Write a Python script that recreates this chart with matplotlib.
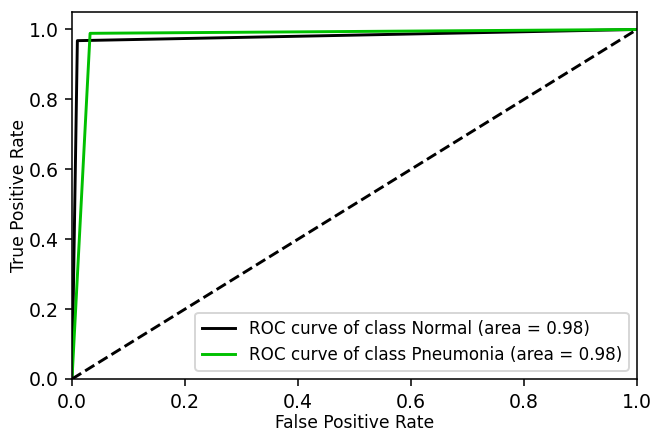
import numpy as np
import matplotlib
matplotlib.use("Agg")
import matplotlib.pyplot as plt

# ROC points
fpr_normal = [0.0, 0.0095, 1.0]
tpr_normal = [0.0, 0.968, 1.0]
fpr_pneu = [0.0, 0.032, 1.0]
tpr_pneu = [0.0, 0.989, 1.0]
class_names = ["Normal", "Pneumonia"]
areas = [0.98, 0.98]
colors = ["black", "#00c000"]

dpi = 140
fig = plt.figure(figsize=(651 / dpi, 431 / dpi), dpi=dpi)
ax = fig.add_axes([72 / 651, 1 - 379 / 431, 565 / 651, 367 / 431])

curves = [(fpr_normal, tpr_normal), (fpr_pneu, tpr_pneu)]
for (fpr, tpr), name, area, c in zip(curves, class_names, areas, colors):
    ax.plot(fpr, tpr, color=c, lw=1.5,
            label=f"ROC curve of class {name} (area = {area:.2f})")

ax.plot([0, 1], [0, 1], "k--", lw=1.5)
ax.set_xlim(0.0, 1.0)
ax.set_ylim(0.0, 1.05)
ax.set_xlabel("False Positive Rate", fontsize=8.8, labelpad=1)
ax.set_ylabel("True Positive Rate", fontsize=8.8, labelpad=0)
ax.tick_params(labelsize=9.7)
ax.legend(loc="lower right", fontsize=8.6)

fig.savefig("out.png", dpi=dpi)
